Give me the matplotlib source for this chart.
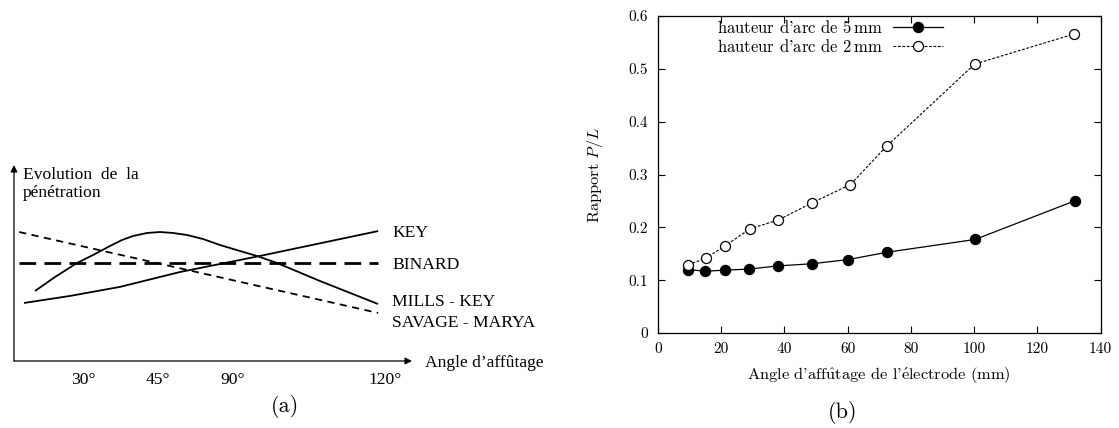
import matplotlib
matplotlib.use("Agg")
import matplotlib.pyplot as plt

plt.rcParams["mathtext.fontset"] = "cm"
plt.rcParams["axes.unicode_minus"] = False

# ---------------- Panel (a): schematic trends ----------------
key_x = [2.5, 14.1, 26.6, 41.7, 61.8, 91.5]
key_y = [29.6, 33.2, 37.8, 45.4, 53.6, 66.3]

mills_x = [5.28, 10.30, 15.83, 20.35, 24.12, 27.14, 29.90, 33.42, 36.68, 39.95,
           43.47, 47.49, 51.76, 56.78, 61.06, 66.08, 76.88, 91.46]
mills_y = [35.71, 42.86, 50.00, 54.59, 58.67, 61.73, 63.78, 65.31, 65.82, 65.31,
           64.29, 62.24, 59.18, 56.12, 53.57, 50.00, 40.82, 29.08]

binard_x = [1.3, 91.5]
binard_y = [50.0, 50.0]

savage_x = [1.3, 91.5]
savage_y = [65.8, 24.5]

curve_names = ["KEY", "BINARD", "MILLS - KEY", "SAVAGE - MARYA"]
angle_ticks = [17.5, 36.2, 55.0, 93.2]
angle_labels = ["30°", "45°", "90°", "120°"]

# ---------------- Panel (b): measured P/L ratio ----------------
angle_5mm = [9.5, 15.0, 21.3, 28.9, 37.9, 48.6, 60.2, 72.6, 100.3, 131.8]
ratio_5mm = [0.120, 0.117, 0.119, 0.121, 0.127, 0.131, 0.139, 0.153, 0.177, 0.250]

angle_2mm = [9.6, 15.2, 21.3, 29.0, 38.1, 48.6, 60.9, 72.4, 100.2, 131.7]
ratio_2mm = [0.129, 0.142, 0.165, 0.197, 0.214, 0.246, 0.281, 0.354, 0.509, 0.566]

x_ticks = [0, 20, 40, 60, 80, 100, 120, 140]
x_tick_labels = ["0", "20", "40", "60", "80", "100", "120", "140"]
y_ticks = [0, 0.1, 0.2, 0.3, 0.4, 0.5, 0.6]
y_tick_labels = ["0", "0.1", "0.2", "0.3", "0.4", "0.5", "0.6"]

W, H = 1119, 428
fig = plt.figure(figsize=(W / 100, H / 100), dpi=100)

# ---- panel (a)
times = "Liberation Serif"
fs_a = 12.6
axa = fig.add_axes([14 / W, 67 / H, 398 / W, 196 / H])
axa.set_xlim(0, 100)
axa.set_ylim(0, 100)
axa.axis("off")

arrow = dict(arrowstyle="-|>", color="black", lw=0.9, mutation_scale=10, shrinkA=0, shrinkB=0)
axa.annotate("", xy=(100, 0), xytext=(0, 0), arrowprops=arrow, annotation_clip=False)
axa.annotate("", xy=(0, 100), xytext=(0, 0), arrowprops=arrow, annotation_clip=False)

axa.plot(key_x, key_y, color="black", lw=1.3, solid_capstyle="butt")
axa.plot(mills_x, mills_y, color="black", lw=1.3, solid_capstyle="butt",
         solid_joinstyle="round")
axa.plot(binard_x, binard_y, color="black", lw=2.0, dashes=(6, 3))
axa.plot(savage_x, savage_y, color="black", lw=1.3, dashes=(4, 3))

label_y = [65.3, 49.0, 30.1, 19.4]
for name, ly in zip(curve_names, label_y):
    axa.text(95, ly, name, family=times, fontsize=fs_a, ha="left", va="center")

for tx, tl in zip(angle_ticks, angle_labels):
    axa.text(tx, -9.7, tl, family=times, fontsize=fs_a, ha="center", va="center")

axa.text(103.3, -1, "Angle d’affûtage", family=times, fontsize=fs_a, ha="left", va="center")
axa.text(2.3, 95, "Evolution  de  la", family=times, fontsize=fs_a, ha="left", va="center")
axa.text(2.3, 85.7, "pénétration", family=times, fontsize=fs_a, ha="left", va="center")

fig.text(285 / W, 1 - 407 / H, "(a)", family="cmr10", fontsize=16, ha="center", va="center")

# ---- panel (b)
cm = ["cmr10", "DejaVu Serif"]
axb = fig.add_axes([658 / W, 1 - 333 / H, (1100.5 - 658) / W, (333 - 16) / H])
axb.plot(angle_5mm, ratio_5mm, color="black", lw=0.9, marker="o", ms=7.2,
         mfc="black", mec="black", label=r"hauteur d'arc de 5$\,$mm")
axb.plot(angle_2mm, ratio_2mm, color="black", lw=0.8, dashes=(2.5, 1.5), marker="o", ms=7.2,
         mfc="white", mec="black", mew=0.9, label=r"hauteur d'arc de 2$\,$mm")

axb.set_xlim(0, 140)
axb.set_ylim(0, 0.6)
axb.set_xticks(x_ticks)
axb.set_xticklabels(x_tick_labels, family=cm, fontsize=11)
axb.set_yticks(y_ticks)
axb.set_yticklabels(y_tick_labels, family=cm, fontsize=11)
axb.tick_params(direction="in", length=5, width=0.8, top=True, right=True, pad=7)
for s in axb.spines.values():
    s.set_linewidth(0.9)

axb.set_xlabel(r"Angle d'aff$\hat{\mathrm{u}}$tage de l'$\acute{\mathrm{e}}$lectrode (mm)",
               family=cm, fontsize=11.8, labelpad=7)
axb.set_ylabel(r"Rapport $P/L$", family=cm, fontsize=11.8, labelpad=17)

leg = axb.legend(loc="upper right", bbox_to_anchor=(943 / W, 1 - 19 / H),
                 bbox_transform=fig.transFigure, frameon=False, markerfirst=False,
                 handlelength=3.0, handletextpad=0.6, labelspacing=0.1, borderpad=0,
                 borderaxespad=0, prop={"family": cm, "size": 12})

fig.text(843 / W, 1 - 412 / H, "(b)", family="cmr10", fontsize=16, ha="center", va="center")

fig.savefig("out.png", dpi=100)
